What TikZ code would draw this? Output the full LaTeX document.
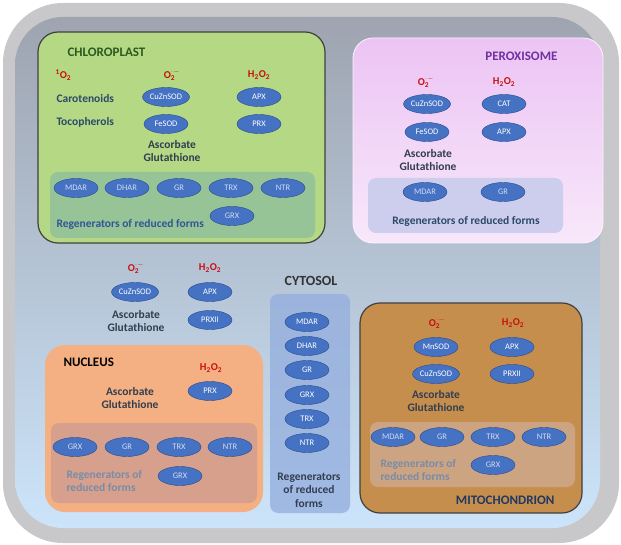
\documentclass[tikz,border=0pt]{standalone}
\usepackage{amsmath}
\usepackage{fontspec}
\setmainfont{Carlito}
\usetikzlibrary{shapes.geometric,positioning}
\definecolor{wallgray}{RGB}{200,200,202}
\definecolor{cyttop}{RGB}{158,164,176}
\definecolor{cytbot}{RGB}{204,228,250}
\definecolor{chlfill}{RGB}{180,216,132}
\definecolor{chlregen}{RGB}{150,196,150}
\definecolor{perfill}{RGB}{236,196,244}
\definecolor{perbot}{RGB}{248,232,250}
\definecolor{perregen}{RGB}{205,205,238}
\definecolor{nucfill}{RGB}{244,176,130}
\definecolor{nucregen}{RGB}{214,160,140}
\definecolor{cytcol}{RGB}{150,176,222}
\definecolor{mitfill}{RGB}{198,142,76}
\definecolor{mitregen}{RGB}{204,164,130}
\definecolor{enzfill}{RGB}{70,114,196}
\definecolor{enzline}{RGB}{40,74,140}
\definecolor{rosred}{RGB}{200,16,16}
\definecolor{labblue}{RGB}{44,74,104}
\definecolor{ascgray}{RGB}{50,62,80}
\definecolor{chlgreen}{RGB}{44,90,30}
\definecolor{perpurple}{RGB}{112,48,160}
\definecolor{mitblue}{RGB}{31,56,100}
\definecolor{reggray}{RGB}{120,140,170}
\definecolor{regblue}{RGB}{47,85,151}
\newcommand{\supox}{O$_{\text{2}}^{\cdot-}$}
\newcommand{\hperox}{H\textsubscript{2}O\textsubscript{2}}
\newcommand{\singox}{\textsuperscript{1}O\textsubscript{2}}

\begin{document}
\begin{tikzpicture}[x=1pt,y=-1pt,
  organelle/.style={rounded corners=20pt,inner sep=0pt},
  regen/.style={rounded corners=8pt,inner sep=0pt},
  enz/.style={ellipse,draw=enzline,fill=enzfill,text=white,
              minimum width=44pt,minimum height=19pt,inner sep=0.5pt,
              font=\fontsize{8.5}{9}\selectfont},
  enzl/.style={enz,text=white!75!enzfill},
  ros/.style={text=rosred,font=\fontsize{10.5}{12}\selectfont\bfseries},
  lbl/.style={text=labblue,font=\fontsize{11.5}{13.5}\selectfont\bfseries},
  asc/.style={text=ascgray,align=center,font=\fontsize{11.5}{13.5}\selectfont\bfseries},
  title/.style={font=\fontsize{13}{15}\selectfont\bfseries}
]
  \useasboundingbox (0,0) rectangle (621,545);

  % Cell wall and cytoplasm
  \path[fill=wallgray,rounded corners=60pt] (3,3) rectangle (619,543);
  \path[top color=cyttop,bottom color=cytbot,rounded corners=48pt] (15,17) rectangle (600,528);

  % Chloroplast
  \node[organelle,draw=black!75,very thick,fill=chlfill,
        minimum width=287pt,minimum height=211pt] (chl) at (181.5,137.5) {};
  \node[regen,fill=chlregen,minimum width=265pt,minimum height=66pt] (chlreg) at (182.5,205) {};
  \node[title,text=chlgreen,anchor=west] (chlname) at (64,52) {CHLOROPLAST};
  \node[ros,anchor=west] (chlsing) at (52,75) {\singox};
  \node[ros] (chlsup) at (172,75) {\supox};
  \node[ros] (chlhp) at (259,75) {\hperox};
  \node[lbl,anchor=west] (carot) at (53,99) {Carotenoids};
  \node[lbl,anchor=west] (tocoph) at (53,122) {Tocopherols};
  \node[enz] (chlcuzn) at (166,97) {CuZnSOD};
  \node[enz] (chlfe) at (166,124) {FeSOD};
  \node[enz] (chlapx) at (259,97) {APX};
  \node[enz] (chlprx) at (259,124) {PRX};
  \node[asc] (chlasc) at (172,151) {Ascorbate\\Glutathione};
  \node[enzl] (chlmdar) at (76,188) {MDAR};
  \node[enzl] (chldhar) at (127,188) {DHAR};
  \node[enzl] (chlgr) at (179,188) {GR};
  \node[enzl] (chltrx) at (231,188) {TRX};
  \node[enzl] (chlntr) at (283,188) {NTR};
  \node[enzl] (chlgrx) at (232,216) {GRX};
  \node[lbl,text=regblue,anchor=west] (chlregtxt) at (53,224) {Regenerators of reduced forms};

  % Peroxisome
  \node[organelle,draw=white!80!perfill,thick,top color=perfill,bottom color=perbot,
        minimum width=250pt,minimum height=205pt] (per) at (478,140.5) {};
  \node[regen,fill=perregen,minimum width=195pt,minimum height=55pt] (perreg) at (465.5,205.5) {};
  \node[title,text=perpurple,anchor=east] (pername) at (561,56) {PEROXISOME};
  \node[ros] (persup) at (426,82) {\supox};
  \node[ros] (perhp) at (504,82) {\hperox};
  \node[enz] (percuzn) at (427,104) {CuZnSOD};
  \node[enz] (percat) at (504,104) {CAT};
  \node[enz] (perfe) at (427,132) {FeSOD};
  \node[enz] (perapx) at (504,132) {APX};
  \node[asc] (perasc) at (428,160) {Ascorbate\\Glutathione};
  \node[enzl] (permdar) at (425,192) {MDAR};
  \node[enzl] (pergr) at (503,192) {GR};
  \node[lbl,text=labblue] (perregtxt) at (466,221) {Regenerators of reduced forms};

  % Cytosol
  \node[ros] (cytsup) at (136,268) {\supox};
  \node[ros] (cythp) at (210,268) {\hperox};
  \node[enz] (cytcuzn) at (135,292) {CuZnSOD};
  \node[enz] (cytapx) at (210,292) {APX};
  \node[enz] (cytprx) at (210,320) {PRXII};
  \node[asc] (cytasc) at (136,321) {Ascorbate\\Glutathione};
  \node[title,text=black!80,font=\fontsize{14}{16}\selectfont\bfseries] (cytname) at (311,281) {CYTOSOL};
  \node[regen,fill=cytcol,opacity=0.8,minimum width=80pt,minimum height=219pt] (cytreg) at (310,403.5) {};
  \node[enz] (cytmdar) at (307,322) {MDAR};
  \node[enz] (cytdhar) at (307,346) {DHAR};
  \node[enz] (cytgr) at (307,370) {GR};
  \node[enz] (cytgrx) at (307,395) {GRX};
  \node[enz] (cyttrx) at (307,419) {TRX};
  \node[enz] (cytntr) at (307,443) {NTR};
  \node[asc] (cytregtxt) at (309,490) {Regenerators\\of reduced\\forms};

  % Nucleus
  \node[organelle,fill=nucfill,minimum width=218pt,minimum height=167pt] (nuc) at (154,428.5) {};
  \node[regen,fill=nucregen,minimum width=206pt,minimum height=80pt] (nucreg) at (154,463) {};
  \node[title,text=black,anchor=west] (nucname) at (60,362) {NUCLEUS};
  \node[ros] (nuchp) at (211,368) {\hperox};
  \node[enz] (nucprx) at (210,391) {PRX};
  \node[asc] (nucasc) at (130,398) {Ascorbate\\Glutathione};
  \node[enzl] (nucgrx) at (75,447) {GRX};
  \node[enzl] (nucgr) at (127,447) {GR};
  \node[enzl] (nuctrx) at (179,447) {TRX};
  \node[enzl] (nucntr) at (230,447) {NTR};
  \node[enzl] (nucgrxb) at (180,476) {GRX};
  \node[lbl,text=reggray,align=left,anchor=west] (nucregtxt) at (63,481) {Regenerators of\\reduced forms};

  % Mitochondrion
  \node[organelle,draw=black!75,very thick,fill=mitfill,
        minimum width=222pt,minimum height=210pt] (mit) at (471,408) {};
  \node[regen,fill=mitregen,minimum width=205pt,minimum height=65pt] (mitreg) at (472.5,454.5) {};
  \node[ros] (mitsup) at (437,323) {\supox};
  \node[ros] (mithp) at (513,323) {\hperox};
  \node[enz] (mitmn) at (436,347) {MnSOD};
  \node[enz] (mitapx) at (512,347) {APX};
  \node[enz] (mitcuzn) at (436,374) {CuZnSOD};
  \node[enz] (mitprx) at (512,374) {PRXII};
  \node[asc] (mitasc) at (436,401) {Ascorbate\\Glutathione};
  \node[enzl] (mitmdar) at (393,437) {MDAR};
  \node[enzl] (mitgr) at (442,437) {GR};
  \node[enzl] (mittrx) at (493,437) {TRX};
  \node[enzl] (mitntr) at (544,437) {NTR};
  \node[enzl] (mitgrx) at (493,465) {GRX};
  \node[lbl,text=reggray,align=left,anchor=west] (mitregtxt) at (377,470) {Regenerators of\\reduced forms};
  \node[title,text=mitblue,anchor=east] (mitname) at (558,500) {MITOCHONDRION};
\end{tikzpicture}
\end{document}
